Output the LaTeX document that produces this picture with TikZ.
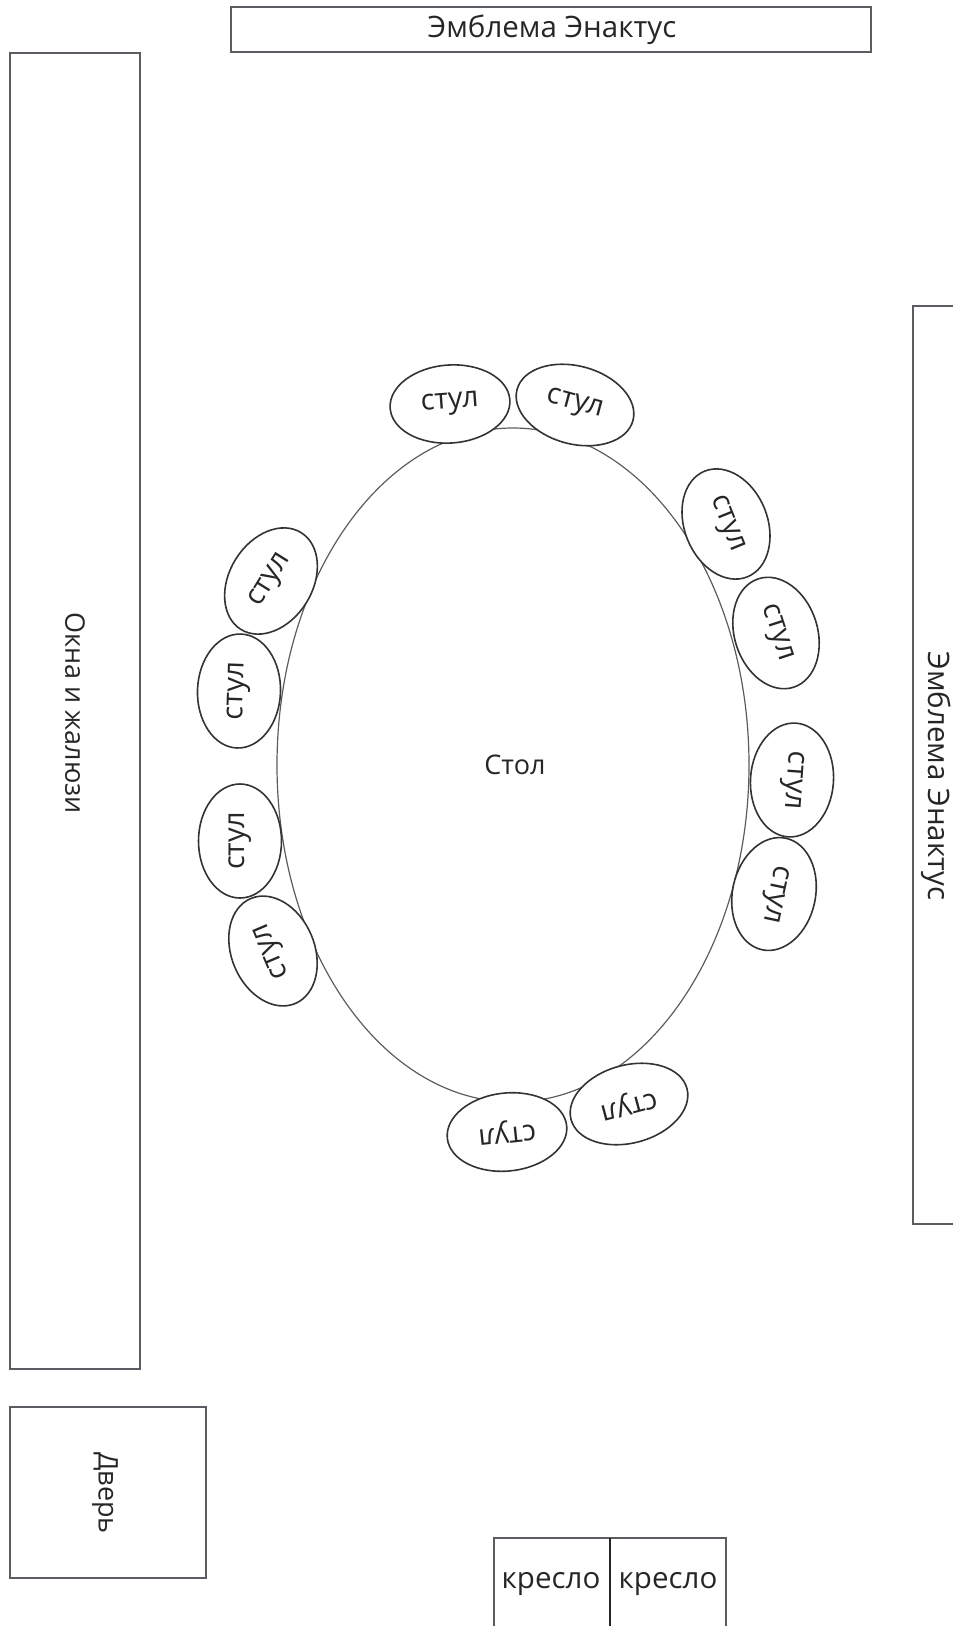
\documentclass[tikz,border=0pt]{standalone}
\usepackage{fontspec}
\usetikzlibrary{shapes.geometric}
\setmainfont{Open Sans}
\definecolor{framegray}{HTML}{595D62}
\tikzset{
    frame/.style={draw=framegray, line width=1.2pt},
    chair/.style={draw=black!80, line width=1.6pt, fill=white, ellipse, minimum width=120pt, minimum height=78pt, inner sep=0pt, font=\fontsize{29}{29}\selectfont, text=black!85},
    sidechair/.style={chair, minimum width=114pt, minimum height=83pt},
    label/.style={font=\fontsize{27}{27}\selectfont, text=black!85},
    biglabel/.style={font=\fontsize{29.5}{30}\selectfont, text=black!85}
}
\begin{document}
\begin{tikzpicture}[x=1pt,y=-1pt]
    \useasboundingbox (0,0) rectangle (953,1626);
    % walls
    \draw[frame] (231,7) rectangle (871,52);
    \draw[frame] (10,53) rectangle (140,1369);
    \draw[frame] (913,306) rectangle (960,1224);
    \draw[frame] (10,1407) rectangle (206,1578);
    \draw[frame] (494,1538) rectangle (726,1640);
    \draw[black!85, line width=2pt] (610,1538) -- (610,1640);
    \node[biglabel] (logotop) at (552,30) {Эмблема Энактус};
    \node[label, rotate=-90] (windows) at (75,713) {Окна и жалюзи};
    \node[biglabel, rotate=-90] (logoright) at (936,776) {Эмблема Энактус};
    \node[label, rotate=-90] (door) at (105,1493) {Дверь};
    \node[biglabel] (seatleft) at (551,1584) {кресло};
    \node[biglabel] (seatright) at (668,1584) {кресло};
    % table
    \node[frame, ellipse, minimum width=472pt, minimum height=674pt, inner sep=0pt, label] (table) at (513,765) {\hspace{4pt}Стол};
    % chairs
    \node[chair, rotate=4] (chaira) at (450,404) {стул};
    \node[chair, rotate=-15] (chairb) at (575,405) {стул};
    \node[sidechair, rotate=-68] (chairc) at (726,524) {стул};
    \node[sidechair, rotate=-72] (chaird) at (776,633) {стул};
    \node[sidechair, rotate=-94] (chaire) at (792,780) {стул};
    \node[sidechair, rotate=-102] (chairf) at (774,894) {стул};
    \node[chair, rotate=195] (chairg) at (629,1104) {стул};
    \node[chair, rotate=186] (chairh) at (507,1132) {стул};
    \node[sidechair, rotate=113] (chairi) at (273,951) {стул};
    \node[sidechair, rotate=90] (chairj) at (240,841) {стул};
    \node[sidechair, rotate=88] (chairk) at (239,691) {стул};
    \node[sidechair, rotate=58] (chairl) at (271,581) {стул};
\end{tikzpicture}
\end{document}
